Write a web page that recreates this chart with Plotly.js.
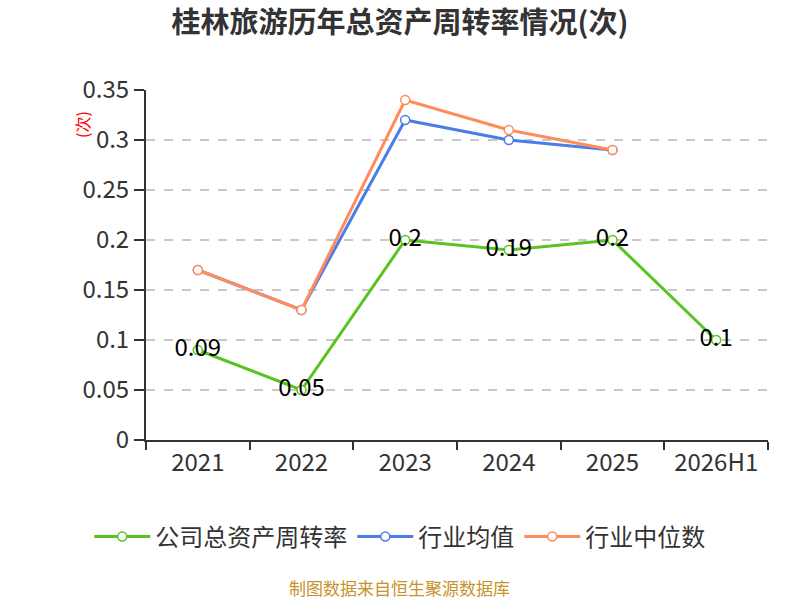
<!DOCTYPE html>
<html>
<head>
<meta charset="utf-8">
<script src="https://cdn.plot.ly/plotly-3.0.1.min.js"></script>
<style>
  html, body { margin: 0; padding: 0; background: #fff; }
  #chart { width: 800px; height: 600px; }
</style>
</head>
<body>
<div id="chart"></div>
<script>
// ── Données ───────────────────────────────────────────
const years       = ['2021', '2022', '2023', '2024', '2025', '2026H1'];
const companyRate = [0.09, 0.05, 0.2, 0.19, 0.2, 0.1];
const industryAvg = [0.17, 0.13, 0.32, 0.30, 0.29, null];
const industryMed = [0.17, 0.13, 0.34, 0.31, 0.29, null];

const FONT = '"Noto Sans CJK SC", "Noto Sans", sans-serif';

function serie(name, y, color, withText) {
  const t = {
    x: years, y, name,
    type: 'scatter',
    mode: withText ? 'lines+markers+text' : 'lines+markers',
    line:   { color, width: 3 },
    marker: { size: 9, color: '#fff', line: { color, width: 1.5 } },
    cliponaxis: false,
    hoverinfo: 'skip',
  };
  if (withText) {
    t.text = y.map(v => String(v));
    t.textposition = 'middle center';
    t.textfont = { family: FONT, size: 24, color: '#000' };
  }
  return t;
}

const data = [
  serie('公司总资产周转率', companyRate, '#58c41e', true),
  serie('行业均值',         industryAvg, '#4a7ee6', false),
  serie('行业中位数',       industryMed, '#ff8c5a', false),
];

const layout = {
  width: 800, height: 600,
  paper_bgcolor: '#fff', plot_bgcolor: '#fff',
  margin: { t: 90, b: 160, l: 146, r: 32 },
  font: { family: FONT, color: '#333' },
  title: {
    text: '<b>桂林旅游历年总资产周转率情况(次)</b>',
    font: { family: FONT, size: 29, color: '#333' },
    x: 0.5, xanchor: 'center', y: 0.962, yanchor: 'middle',
  },
  xaxis: {
    type: 'category', range: [-0.5, 5.5],
    showline: true, linecolor: '#333', linewidth: 2,
    ticks: 'outside', tickson: 'boundaries', ticklen: 8, tickcolor: '#333', tickwidth: 2,
    tickfont: { family: FONT, size: 24, color: '#333' },
    showgrid: false,
  },
  yaxis: {
    range: [0, 0.35], dtick: 0.05,
    showline: true, linecolor: '#333', linewidth: 2,
    ticks: 'outside', ticklen: 10, tickcolor: '#333', tickwidth: 2,
    tickfont: { family: FONT, size: 24, color: '#333' },
    showgrid: true, gridcolor: '#c8c8c8', gridwidth: 1.5, griddash: 'dash',
    zeroline: false,
  },
  showlegend: true,
  legend: {
    orientation: 'h',
    x: 0.408, xanchor: 'center',
    y: -0.277, yanchor: 'middle',
    font: { family: FONT, size: 24, color: '#333' },
    itemwidth: 56,
  },
  annotations: [
    {
      text: '(次)', xref: 'paper', yref: 'paper',
      x: 0, xshift: -64, y: 0.9, xanchor: 'center', yanchor: 'middle',
      textangle: -90, showarrow: false,
      font: { family: FONT, size: 16, color: '#ff0000' },
    },
    {
      text: '制图数据来自恒生聚源数据库', xref: 'paper', yref: 'paper',
      x: 0.408, y: -0.42, xanchor: 'center', yanchor: 'middle',
      showarrow: false,
      font: { family: FONT, size: 17, color: '#c8922a' },
    },
  ],
};

Plotly.newPlot('chart', data, layout, { displayModeBar: false, staticPlot: true });
</script>
</body>
</html>
